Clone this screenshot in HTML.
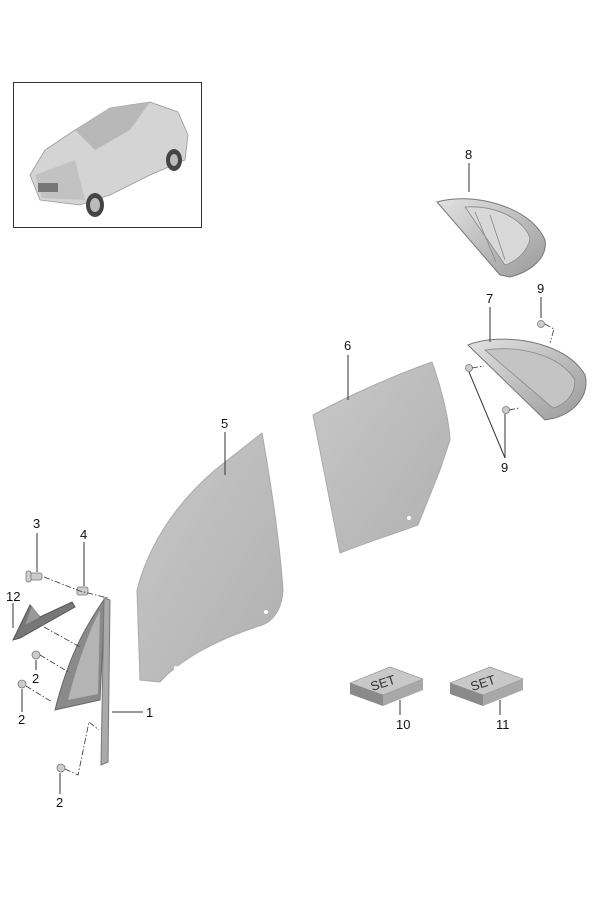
<!DOCTYPE html>
<html><head><style>
html,body{margin:0;padding:0;background:#fff;}
svg{display:block;}
text{font-family:"Liberation Sans",sans-serif;font-size:13px;fill:#111;}
</style></head><body>
<svg width="600" height="900" viewBox="0 0 600 900" xmlns="http://www.w3.org/2000/svg">
<defs>
<linearGradient id="gl" x1="0" y1="0" x2="1" y2="1">
<stop offset="0" stop-color="#c8c8c8"/><stop offset="1" stop-color="#b0b0b0"/></linearGradient>
<linearGradient id="fr" x1="0" y1="0" x2="1" y2="1">
<stop offset="0" stop-color="#e2e2e2"/><stop offset="1" stop-color="#9a9a9a"/></linearGradient>
</defs>
<!-- car box -->
<rect x="13.5" y="82.5" width="188" height="145" fill="#fff" stroke="#333" stroke-width="1"/>
<g>
<path d="M30,175 L45,150 L75,130 L110,108 L150,102 L178,112 L188,135 L185,160 L150,175 L110,195 L80,205 L40,200 Z" fill="#d4d4d4" stroke="#999" stroke-width="0.8"/>
<path d="M75,130 L110,108 L150,102 L130,130 L95,150 Z" fill="#b8b8b8"/>
<path d="M35,175 L75,160 L85,200 L42,198 Z" fill="#c2c2c2"/>
<rect x="38" y="183" width="20" height="9" fill="#777"/>
<ellipse cx="95" cy="205" rx="9" ry="12" fill="#444"/><ellipse cx="95" cy="205" rx="5" ry="7" fill="#bbb"/>
<ellipse cx="174" cy="160" rx="8" ry="11" fill="#444"/><ellipse cx="174" cy="160" rx="4" ry="6" fill="#bbb"/>
</g>
<!-- glass 5 -->
<path d="M137,590 C150,540 180,500 215,470 L262,433 C272,490 280,545 283,590 C282,610 272,622 262,625 C215,640 180,660 160,682 L140,680 Z" fill="url(#gl)" stroke="#aaa"/>
<circle cx="266" cy="612" r="2" fill="#fff"/><circle cx="176" cy="668" r="2" fill="#fff"/>
<!-- glass 6 -->
<path d="M313,415 C350,395 395,375 432,362 C442,390 449,420 450,440 L440,470 L418,525 C390,535 360,545 340,553 Z" fill="url(#gl)" stroke="#aaa"/>
<circle cx="409" cy="518" r="2" fill="#fff"/>
<!-- part 8 -->
<path d="M437,202 C470,192 530,205 545,240 C548,258 530,272 510,277 L500,275 Z" fill="url(#fr)" stroke="#777"/>
<path d="M465,207 C500,205 525,222 530,238 C528,252 515,262 505,265 Z" fill="#d8d8d8" stroke="#888" stroke-width="0.8"/>
<path d="M490,215 L505,260 M475,212 L496,262" stroke="#888" stroke-width="0.8"/>
<!-- part 7 -->
<path d="M468,345 C500,332 565,340 585,375 C590,395 575,412 555,418 L545,420 Z" fill="url(#fr)" stroke="#777"/>
<path d="M485,350 C520,345 560,355 575,380 C575,395 565,405 553,408 Z" fill="#c4c4c4" stroke="#888" stroke-width="0.8"/>
<!-- part 1 / triangle -->
<path d="M105,598 C90,620 70,650 55,710 L100,700 Z" fill="#8a8a8a" stroke="#666"/>
<path d="M100,610 C90,630 78,660 68,700 L98,694 Z" fill="#b4b4b4"/>
<path d="M104,598 L110,600 L108,762 L101,765 Z" fill="#aaa" stroke="#777"/>
<!-- part 12 -->
<path d="M13,640 L30,605 L40,617 L72,602 L75,607 L20,638 Z" fill="#777" stroke="#555"/>
<path d="M25,625 L32,606 L40,617 Z" fill="#999"/>
<!-- bolts -->
<g fill="#ccc" stroke="#777" stroke-width="0.8">
<rect x="28" y="573" width="14" height="7" rx="2"/><rect x="26" y="571" width="5" height="11" rx="2"/>
<rect x="77" y="587" width="11" height="8" rx="2"/>
<circle cx="36" cy="655" r="4"/><circle cx="22" cy="684" r="4"/><circle cx="61" cy="768" r="4"/>
<circle cx="541" cy="324" r="3.5"/><circle cx="469" cy="368" r="3.5"/><circle cx="506" cy="410" r="3.5"/>
</g>
<!-- dash-dot lines -->
<g stroke="#333" stroke-width="0.8" fill="none" stroke-dasharray="6,2,1.5,2">
<path d="M44,577 L80,591 L108,598"/>
<path d="M44,627 L80,647"/>
<path d="M40,655 L70,673"/>
<path d="M26,686 L52,702"/>
<path d="M65,769 L78,775 L89,722 L99,730"/>
<path d="M545,324 L554,329 L550,343"/>
<path d="M472,368 L484,366"/>
<path d="M509,410 L519,408"/>
</g>
<!-- leader lines -->
<g stroke="#333" stroke-width="1">
<line x1="37" y1="533" x2="37" y2="572"/>
<line x1="84" y1="542" x2="84" y2="586"/>
<line x1="13" y1="603" x2="13" y2="628"/>
<line x1="36" y1="660" x2="36" y2="670"/>
<line x1="22" y1="689" x2="22" y2="712"/>
<line x1="60" y1="773" x2="60" y2="794"/>
<line x1="112" y1="712" x2="143" y2="712"/>
<line x1="225" y1="432" x2="225" y2="475"/>
<line x1="348" y1="355" x2="348" y2="400"/>
<line x1="469" y1="163" x2="469" y2="192"/>
<line x1="490" y1="307" x2="490" y2="342"/>
<line x1="541" y1="297" x2="541" y2="318"/>
<line x1="469" y1="372" x2="505" y2="458"/>
<line x1="505" y1="414" x2="505" y2="458"/>
<line x1="400" y1="700" x2="400" y2="715"/>
<line x1="500" y1="700" x2="500" y2="715"/>
</g>
<!-- SET boxes -->
<g>
<path d="M350,683 L390,667 L423,679 L383,695 Z" fill="#c8c8c8" stroke="#888" stroke-width="0.6"/>
<path d="M350,683 L383,695 L383,706 L350,694 Z" fill="#8a8a8a"/>
<path d="M383,695 L423,679 L423,690 L383,706 Z" fill="#a8a8a8"/>
<text x="370" y="687" transform="rotate(-18 384 682)" style="font-size:13px;fill:#333">SET</text>
<path d="M450,683 L490,667 L523,679 L483,695 Z" fill="#c8c8c8" stroke="#888" stroke-width="0.6"/>
<path d="M450,683 L483,695 L483,706 L450,694 Z" fill="#8a8a8a"/>
<path d="M483,695 L523,679 L523,690 L483,706 Z" fill="#a8a8a8"/>
<text x="470" y="687" transform="rotate(-18 484 682)" style="font-size:13px;fill:#333">SET</text>
</g>
<!-- labels -->
<text x="33" y="528">3</text>
<text x="80" y="539">4</text>
<text x="6" y="601">12</text>
<text x="32" y="683">2</text>
<text x="18" y="724">2</text>
<text x="56" y="807">2</text>
<text x="146" y="717">1</text>
<text x="221" y="428">5</text>
<text x="344" y="350">6</text>
<text x="465" y="159">8</text>
<text x="486" y="303">7</text>
<text x="537" y="293">9</text>
<text x="501" y="472">9</text>
<text x="396" y="729">10</text>
<text x="496" y="729">11</text>
</svg>
</body></html>
